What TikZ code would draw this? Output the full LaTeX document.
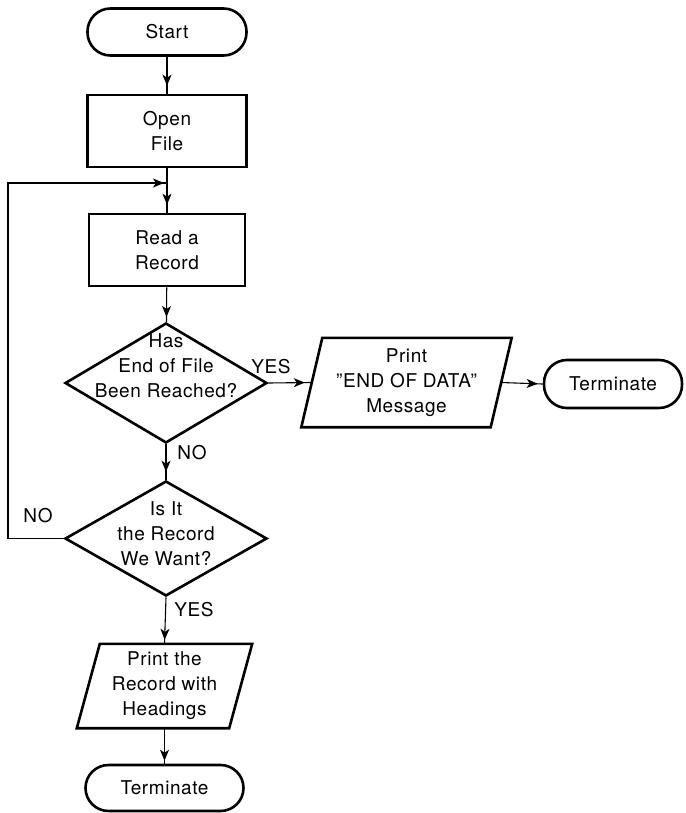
\documentclass[tikz,border=0pt]{standalone}
\usepackage{fontspec}
\setmainfont{TeX Gyre Heros}[LetterSpace=3]
\usetikzlibrary{shapes.geometric,arrows.meta,decorations.markings,calc}

% slanted input/output box drawn round an invisible node
\newcommand\iobox[2]{%
  \draw[boxline] ($(#1.north west)+(#2,0)$) -- ($(#1.north east)+(#2,0)$)
    -- ($(#1.south east)-(#2,0)$) -- ($(#1.south west)-(#2,0)$) -- cycle;}

\tikzset{
  lbl/.style={font=\fontsize{19}{25}\selectfont, align=center, inner sep=0pt},
  boxline/.style={line width=2.6pt, line join=miter},
  procbox/.style={lbl, draw, boxline, rectangle, minimum width=#1, minimum height=72pt},
  termbox/.style={lbl, draw, boxline, rectangle, rounded corners=23pt, minimum width=#1, minimum height=47pt},
  decbox/.style={draw, boxline, diamond, inner sep=0pt, minimum width=202pt},
  iohold/.style={lbl, rectangle, minimum width=#1},
  flow/.style={line width=1.1pt, postaction=decorate,
    decoration={markings, mark=at position -#1 with {\arrow{Stealth[length=11pt,width=9pt,inset=3pt]}}}},
  flow/.default=6pt,
}

\begin{document}
\begin{tikzpicture}[x=1pt,y=-1pt]
\useasboundingbox (0,0) rectangle (685,813);

% main column
\node[termbox=159pt] (start) at (167,32) {Start};
\node[procbox=159pt] (open) at (167,131) {Open\\File};
\node[procbox=156pt] (read) at (167,250) {Read a\\Record};

\node[decbox, minimum height=120pt] (d1) at (166,383) {};
\node[lbl] (d1t) at (166,366) {Has\\End of File\\Been Reached?};

\node[decbox, minimum height=115pt] (d2) at (166,538.5) {};
\node[lbl] (d2t) at (166,534) {Is It\\the Record\\We Want?};

\node[iohold=152pt, minimum height=84pt] (pr2) at (164.5,686) {Print the\\Record with\\Headings};
\iobox{pr2}{11.5}
\node[termbox=158pt, minimum height=46pt] (term2) at (164.5,788) {Terminate};

% end-of-file branch
\node[iohold=189pt, minimum height=89pt] (pr1) at (406.5,382.5) {Print\\''END OF DATA''\\Message};
\iobox{pr1}{10.5}
\node[termbox=138pt, minimum height=48pt] (term1) at (613,384) {Terminate};

% connectors
\coordinate (jn) at (167,183);
\coordinate (lc) at (8,183);
\draw[flow=8pt] (start) -- (open);
\draw[flow=8pt] (open) -- (read);
\draw[flow=5pt] (read) -- (d1);
\draw[flow=8pt] (d1) -- (d2);
\draw[flow=4pt] (d2.south) -- (pr2.north);
\draw[flow=3pt] (pr2.south) -- (term2.north);
\draw[flow=7pt] (d1.east) -- (pr1.west);
\draw[flow=5pt] (pr1.east) -- (term1.west);
\draw[flow=3pt] (d2.west) -| (lc) -- (jn);

% branch labels
\node[lbl] (yes1) at (271,366.5) {YES};
\node[lbl] (no1) at (192,452.5) {NO};
\node[lbl] (no2) at (38,516) {NO};
\node[lbl] (yes2) at (194,610) {YES};
\end{tikzpicture}
\end{document}
